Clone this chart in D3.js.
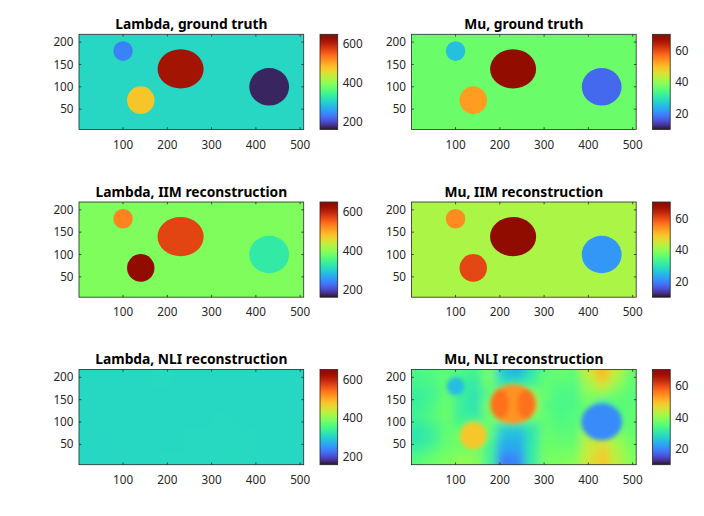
<!DOCTYPE html>
<html>
<head>
<meta charset="UTF-8">
<style>
  body { margin: 0; background: white; }
  svg { display: block; font-family: "Noto Sans", sans-serif; }
  .tick { font-size: 11.7px; fill: #262626; }
  .title { font-size: 13.8px; font-weight: bold; fill: #000; }
</style>
</head>
<body>
<svg id="fig" width="704" height="516"></svg>
<script src="https://d3js.org/d3.v7.min.js"></script>
<script>

// axis ticks
const xTicks = [100, 200, 300, 400, 500];
const yTicks = [50, 100, 150, 200];
const lambdaTicks = [200, 400, 600];
const muTicks = [20, 40, 60];
const lambdaRange = [160, 652];
const muRange = [10, 70.5];

// inclusions: small, lower-left, big, right  (centre x, centre y, radius x, radius y)
const incCx = [100, 140, 230, 430];
const incCy = [180, 70, 140, 100];
const incRx = [22, 31, 52, 45];
const incRy = [22, 31, 44, 42];

// values of background and each inclusion
const lambdaTrueBg = 308;
const lambdaTrue = [238, 478, 620, 172];
const muTrueBg = 37;
const muTrue = [25.5, 53, 69, 17.5];
const lambdaIimBg = 392;
const lambdaIim = [528, 645, 572, 330];
const muIimBg = 42;
const muIim = [54.5, 60.5, 70.5, 21.5];

// NLI reconstructions, coarse grid (rows top -> bottom)
const gridX = [16, 48, 80, 112, 144, 176, 208, 240, 272, 304, 336, 368, 400, 432, 464, 496];
const gridY = [209, 185, 161, 137, 113, 89, 65, 41, 17];
const muNli = [
  [34, 35, 36, 34, 33, 38, 26, 24, 30, 36, 37, 36, 44, 51, 43, 37],
  [33, 34, 36, 32, 31, 37, 30, 31, 33, 36, 35, 35, 41, 46, 40, 36],
  [32, 33, 36, 32, 30, 35, 40, 40, 40, 36, 34, 34, 39, 39, 37, 35],
  [32, 34, 37, 32, 30, 38, 44, 44, 42, 35, 34, 34, 37, 30, 35, 36],
  [33, 35, 37, 32, 31, 37, 40, 40, 38, 36, 34, 35, 36, 28, 34, 36],
  [31, 33, 36, 35, 38, 37, 28, 27, 31, 36, 35, 35, 39, 34, 37, 36],
  [30, 32, 36, 38, 42, 35, 25, 24, 30, 37, 36, 36, 43, 44, 40, 37],
  [32, 34, 37, 37, 38, 33, 23, 23, 31, 37, 37, 37, 44, 47, 42, 38],
  [35, 37, 38, 40, 39, 33, 19, 20, 31, 38, 38, 39, 45, 49, 43, 39]
];
// smoothed blobs in the mu NLI image: cx, cy, rx, ry, value
const muBlobCx = [230, 200, 260, 140, 100, 430];
const muBlobCy = [140, 140, 140, 70, 180, 100];
const muBlobRx = [52, 20, 20, 30, 20, 46];
const muBlobRy = [44, 32, 32, 30, 20, 41];
const muBlobVal = [54, 57, 57, 49, 25, 20.5];
const lambdaNliX = [64, 192, 320, 448];
const lambdaNliY = [180, 110, 40];
const lambdaNli = [
  [309, 310, 309, 308],
  [309, 309, 310, 310],
  [308, 310, 311, 309]
];

let svg = d3.select("#fig");
let defs = svg.append("defs");

let colLeft = [79, 411.5];
let rowTop = [34.3, 202, 369.5];
let axW = 224.7, axH = 95.2;
let cbOff = 241, cbW = 17.7;

let blurId = 0;
function blur(std) {
  let id = "blur" + (blurId++);
  defs.append("filter").attr("id", id)
      .attr("x", "-30%").attr("y", "-30%").attr("width", "160%").attr("height", "160%")
    .append("feGaussianBlur").attr("stdDeviation", std);
  return "url(#" + id + ")";
}

function panel(col, row, title, range, cTicks, draw) {
  let left = colLeft[col], top = rowTop[row];
  let x = d3.scaleLinear().domain([0.5, 508]).range([left, left + axW]);
  let y = d3.scaleLinear().domain([4.5, 217.5]).range([top + axH, top]);
  let color = d3.scaleSequential(d3.interpolateTurbo).domain(range);

  let clipId = "clip" + col + row;
  defs.append("clipPath").attr("id", clipId)
    .append("rect").attr("x", left).attr("y", top).attr("width", axW).attr("height", axH);

  let g = svg.append("g").attr("clip-path", "url(#" + clipId + ")");
  draw(g, x, y, color);

  // box + ticks inside
  svg.append("rect").attr("x", left).attr("y", top).attr("width", axW).attr("height", axH)
    .attr("fill", "none").attr("stroke", "#262626").attr("stroke-width", 0.8);
  let tl = 2.3;
  xTicks.forEach(t => {
    svg.append("line").attr("x1", x(t)).attr("x2", x(t)).attr("y1", top + axH).attr("y2", top + axH - tl)
      .attr("stroke", "#262626").attr("stroke-width", 0.8);
    svg.append("line").attr("x1", x(t)).attr("x2", x(t)).attr("y1", top).attr("y2", top + tl)
      .attr("stroke", "#262626").attr("stroke-width", 0.8);
    svg.append("text").attr("class", "tick").attr("x", x(t)).attr("y", top + axH + 15)
      .attr("dy", "0.35em").attr("text-anchor", "middle").text(t);
  });
  yTicks.forEach(t => {
    svg.append("line").attr("x1", left).attr("x2", left + tl).attr("y1", y(t)).attr("y2", y(t))
      .attr("stroke", "#262626").attr("stroke-width", 0.8);
    svg.append("line").attr("x1", left + axW).attr("x2", left + axW - tl).attr("y1", y(t)).attr("y2", y(t))
      .attr("stroke", "#262626").attr("stroke-width", 0.8);
    svg.append("text").attr("class", "tick").attr("x", left - 5.5).attr("y", y(t))
      .attr("dy", "0.35em").attr("text-anchor", "end").text(t);
  });

  svg.append("text").attr("class", "title").attr("x", left + axW / 2).attr("y", top - 5.5)
    .attr("text-anchor", "middle").text(title);

  // colorbar
  let gid = "grad" + col + row;
  let grad = defs.append("linearGradient").attr("id", gid)
    .attr("x1", 0).attr("y1", 1).attr("x2", 0).attr("y2", 0);
  d3.range(0, 1.0001, 0.02).forEach(f => {
    grad.append("stop").attr("offset", f).attr("stop-color", d3.interpolateTurbo(f));
  });
  let cbX = left + cbOff;
  let cy = d3.scaleLinear().domain(range).range([top + axH, top]);
  svg.append("rect").attr("x", cbX).attr("y", top).attr("width", cbW).attr("height", axH)
    .attr("fill", "url(#" + gid + ")").attr("stroke", "#262626").attr("stroke-width", 0.8);
  cTicks.forEach(t => {
    svg.append("text").attr("class", "tick").attr("x", cbX + cbW + 5).attr("y", cy(t))
      .attr("dy", "0.35em").attr("text-anchor", "start").text(t);
  });
}

function inclusions(bg, vals) {
  return (g, x, y, color) => {
    g.append("rect").attr("x", x(0.5)).attr("y", y(217.5))
      .attr("width", x(508) - x(0.5)).attr("height", y(4.5) - y(217.5)).attr("fill", color(bg));
    g.selectAll("ellipse").data(vals).enter().append("ellipse")
      .attr("cx", (d, i) => x(incCx[i])).attr("cy", (d, i) => y(incCy[i]))
      .attr("rx", (d, i) => x(incRx[i]) - x(0)).attr("ry", (d, i) => y(0) - y(incRy[i]))
      .attr("fill", d => color(d));
  };
}

function gridImage(gx, gy, vals, dx, dy, std, ext) {
  return (g, x, y, color) => {
    let gg = g.append("g").attr("filter", blur(std));
    vals.forEach((row, r) => row.forEach((v, c) => {
      let x0 = gx[c] - dx / 2, x1 = gx[c] + dx / 2;
      let y0 = gy[r] - dy / 2, y1 = gy[r] + dy / 2;
      if (c === 0) x0 -= ext;
      if (c === row.length - 1) x1 += ext;
      if (r === 0) y1 += ext;
      if (r === vals.length - 1) y0 -= ext;
      gg.append("rect").attr("x", x(x0)).attr("y", y(y1))
        .attr("width", x(x1) - x(x0) + 0.5).attr("height", y(y0) - y(y1) + 0.5)
        .attr("fill", color(v));
    }));
  };
}

panel(0, 0, "Lambda, ground truth", lambdaRange, lambdaTicks, inclusions(lambdaTrueBg, lambdaTrue));
panel(1, 0, "Mu, ground truth", muRange, muTicks, inclusions(muTrueBg, muTrue));
panel(0, 1, "Lambda, IIM reconstruction", lambdaRange, lambdaTicks, inclusions(lambdaIimBg, lambdaIim));
panel(1, 1, "Mu, IIM reconstruction", muRange, muTicks, inclusions(muIimBg, muIim));
panel(0, 2, "Lambda, NLI reconstruction", lambdaRange, lambdaTicks,
  gridImage(lambdaNliX, lambdaNliY, lambdaNli, 128, 70, 20, 200));
panel(1, 2, "Mu, NLI reconstruction", muRange, muTicks, (g, x, y, color) => {
  gridImage(gridX, gridY, muNli, 32, 24, 5, 60)(g, x, y, color);
  let gb = g.append("g").attr("filter", blur(2.2));
  gb.selectAll("ellipse").data(muBlobVal).enter().append("ellipse")
    .attr("cx", (d, i) => x(muBlobCx[i])).attr("cy", (d, i) => y(muBlobCy[i]))
    .attr("rx", (d, i) => x(muBlobRx[i]) - x(0)).attr("ry", (d, i) => y(0) - y(muBlobRy[i]))
    .attr("fill", d => color(d));
});

</script>
</body>
</html>
